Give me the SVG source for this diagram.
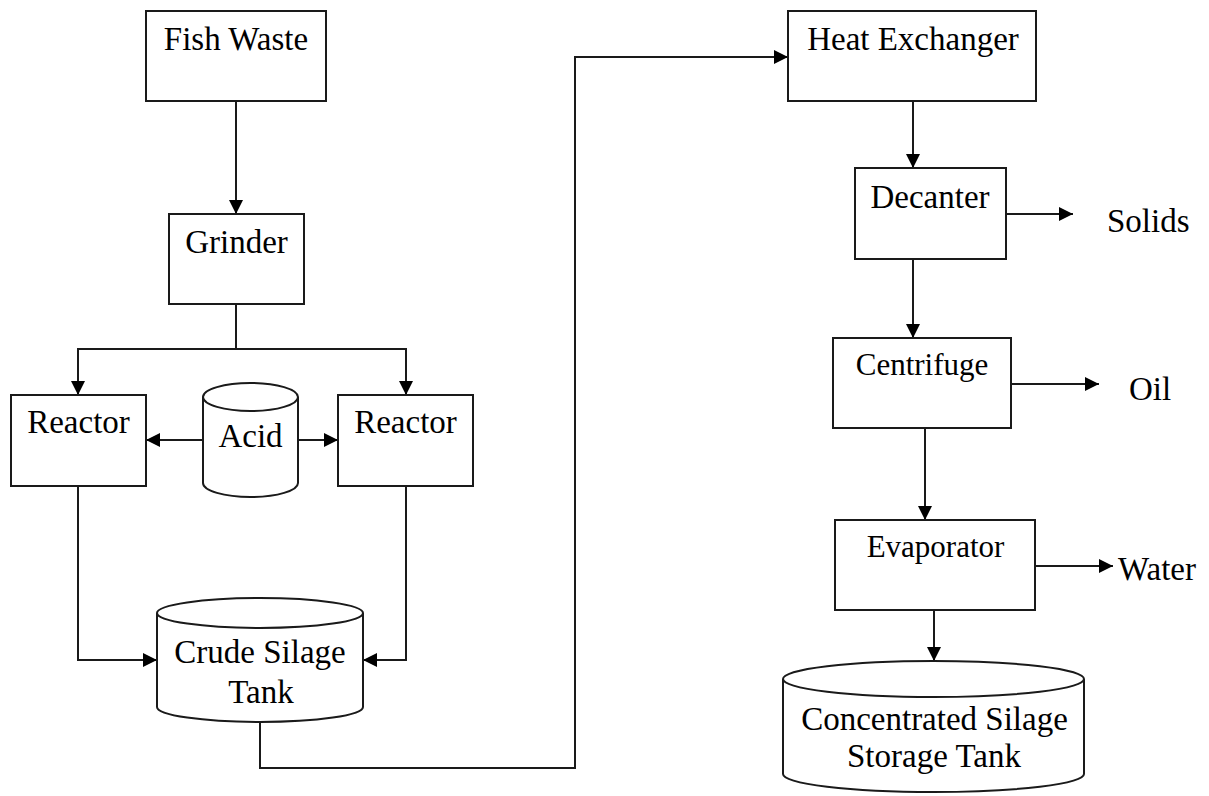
<svg xmlns="http://www.w3.org/2000/svg" width="1209" height="796" viewBox="0 0 1209 796">
<style>
.box{fill:#fff;stroke:#1a1a1a;stroke-width:2}
.cyl{fill:#fff;stroke:#1a1a1a;stroke-width:2}
.lbl{font-family:"Liberation Serif","Times New Roman",serif;font-size:33px;fill:#000;text-anchor:middle}
.sm{font-size:31px}
.out{text-anchor:start}
.ln{fill:none;stroke:#1a1a1a;stroke-width:2}
.ar{marker-end:url(#ah)}
</style>
<defs>
<marker id="ah" markerUnits="userSpaceOnUse" markerWidth="14" markerHeight="14" refX="14" refY="7" orient="auto">
<path d="M0,0 L14,7 L0,14 z" fill="#000"/>
</marker>
</defs>
<rect width="1209" height="796" fill="#fff"/>
<g id="connectors">
<line class="ln ar" x1="236" y1="101" x2="236" y2="214"/>
<polyline class="ln" points="236,304 236,349"/>
<polyline class="ln ar" points="236,349 78,349 78,395"/>
<polyline class="ln ar" points="236,349 406,349 406,395"/>
<line class="ln ar" x1="203" y1="440" x2="146" y2="440"/>
<line class="ln ar" x1="298" y1="440" x2="338" y2="440"/>
<polyline class="ln ar" points="78,486 78,660 157,660"/>
<polyline class="ln ar" points="406,486 406,660 363,660"/>
<polyline class="ln ar" points="260,722 260,768 575,768 575,57 788,57"/>
<line class="ln ar" x1="913" y1="101" x2="913" y2="168"/>
<line class="ln ar" x1="1006" y1="214" x2="1073" y2="214"/>
<line class="ln ar" x1="913" y1="259" x2="913" y2="338"/>
<line class="ln ar" x1="1011" y1="384" x2="1099" y2="384"/>
<line class="ln ar" x1="925" y1="428" x2="925" y2="520"/>
<line class="ln ar" x1="1035" y1="566" x2="1113" y2="566"/>
<line class="ln ar" x1="934" y1="610" x2="934" y2="661"/>
</g>
<g id="fish-waste">
<rect class="box" x="146" y="11" width="180" height="90"/>
<text class="lbl" x="236" y="50">Fish Waste</text>
</g>
<g id="grinder">
<rect class="box" x="169" y="214" width="135" height="90"/>
<text class="lbl" x="236.5" y="253">Grinder</text>
</g>
<g id="reactor-left">
<rect class="box" x="11" y="395" width="135" height="91"/>
<text class="lbl" x="78.5" y="433">Reactor</text>
</g>
<g id="reactor-right">
<rect class="box" x="338" y="395" width="135" height="91"/>
<text class="lbl" x="405.5" y="433">Reactor</text>
</g>
<g id="acid">
<path class="cyl" d="M203,397 A47.5,14 0 0 1 298,397 L298,483 A47.5,14 0 0 1 203,483 Z"/>
<path class="cyl" d="M203,397 A47.5,14 0 0 0 298,397"/>
<text class="lbl" x="250.5" y="447">Acid</text>
</g>
<g id="crude-silage-tank">
<path class="cyl" d="M157,613 A103,15 0 0 1 363,613 L363,707 A103,15 0 0 1 157,707 Z"/>
<path class="cyl" d="M157,613 A103,15 0 0 0 363,613"/>
<text class="lbl" x="260" y="663">Crude Silage</text>
<text class="lbl" x="261" y="703">Tank</text>
</g>
<g id="heat-exchanger">
<rect class="box" x="788" y="11" width="248" height="90"/>
<text class="lbl" x="913" y="50">Heat Exchanger</text>
</g>
<g id="decanter">
<rect class="box" x="855" y="168" width="151" height="91"/>
<text class="lbl" x="930" y="208">Decanter</text>
</g>
<g id="solids">
<text class="lbl out" x="1107" y="232">Solids</text>
</g>
<g id="centrifuge">
<rect class="box" x="833" y="338" width="178" height="90"/>
<text class="lbl sm" x="922" y="375">Centrifuge</text>
</g>
<g id="oil">
<text class="lbl out" x="1129" y="400">Oil</text>
</g>
<g id="evaporator">
<rect class="box" x="835" y="520" width="200" height="90"/>
<text class="lbl sm" x="935.5" y="557">Evaporator</text>
</g>
<g id="water">
<text class="lbl out" x="1118" y="580">Water</text>
</g>
<g id="concentrated-silage-storage-tank">
<path class="cyl" d="M783,679 A150.5,18 0 0 1 1084,679 L1084,774 A150.5,18 0 0 1 783,774 Z"/>
<path class="cyl" d="M783,679 A150.5,18 0 0 0 1084,679"/>
<text class="lbl" x="934.5" y="730">Concentrated Silage</text>
<text class="lbl" x="934" y="767">Storage Tank</text>
</g>
</svg>
